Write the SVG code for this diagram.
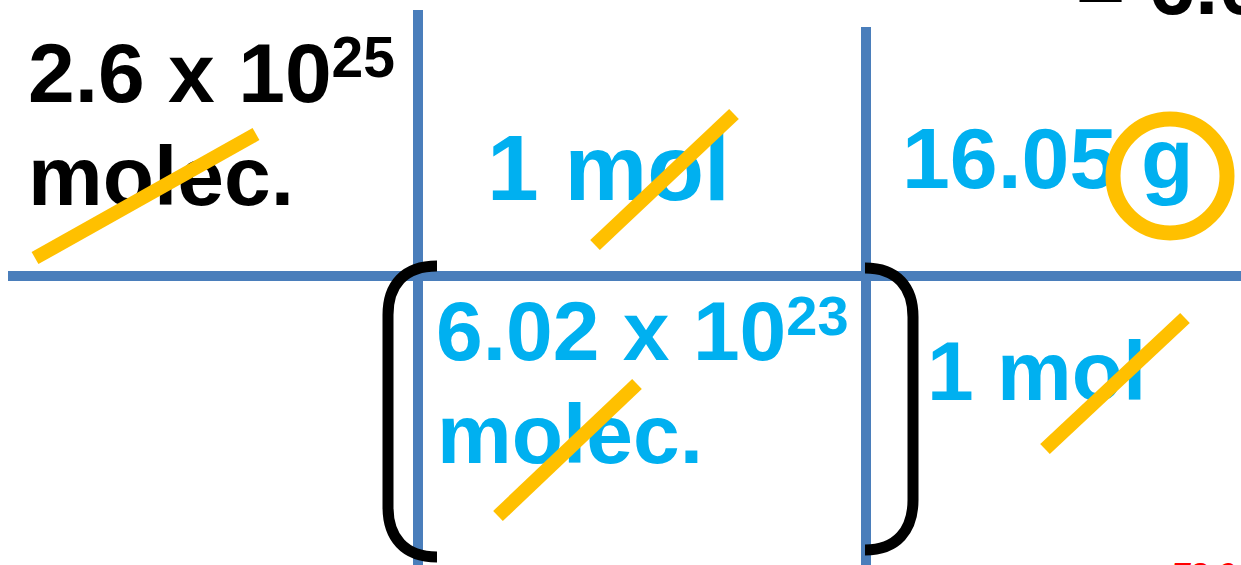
<svg xmlns="http://www.w3.org/2000/svg" width="1241" height="565" viewBox="0 0 1241 565">
<style>
.t{font-family:"Liberation Sans",Arial,sans-serif;font-weight:bold}
.blk{fill:#000}
.cy{fill:#00B0F0}
.grid{stroke:#4A7EBB;stroke-width:10;fill:none}
.strike{stroke:#FFC000;stroke-width:14;fill:none}
.br{stroke:#000;stroke-width:11;fill:none;stroke-linecap:butt}
</style>
<rect width="1241" height="565" fill="#fff"/>
<g id="connectors">
<line class="grid" x1="8" y1="276" x2="1241" y2="276"/>
<line class="grid" x1="418" y1="10" x2="418" y2="565"/>
<line class="grid" x1="866" y1="27" x2="866" y2="565"/>
<path class="br" d="M437,266 C404,266 388,285 388,315 L388,507 C388,537 404,557 437,557"/>
<path class="br" d="M865,268 C897,268 913,287 913,317 L913,500 C913,530 897,550 865,550"/>
</g>
<g id="top-right">
<text class="t blk" x="1076" y="14" font-size="84">= 6.02</text>
</g>
<g id="start">
<text class="t blk" x="28" y="102" font-size="84">2.6 x 10<tspan font-size="57" dy="-25">25</tspan></text>
<text class="t blk" x="28" y="205" font-size="84">molec.</text>
<line class="strike" x1="35" y1="258" x2="256" y2="134"/>
</g>
<g id="mol-top">
<text class="t cy" x="487" y="200" font-size="93">1 mol</text>
<line class="strike" x1="595" y1="245" x2="734" y2="114"/>
</g>
<g id="grams">
<text class="t cy" x="902" y="188" font-size="86">16.05 g</text>
<circle cx="1170" cy="176" r="57" fill="none" stroke="#FFC000" stroke-width="15"/>
</g>
<g id="avogadro">
<text class="t cy" x="436" y="360" font-size="84">6.02 x 10<tspan font-size="56" dy="-25">23</tspan></text>
<text class="t cy" x="437" y="463" font-size="84">molec.</text>
<line class="strike" x1="498" y1="516" x2="637" y2="384"/>
</g>
<g id="mol-bottom">
<text class="t cy" x="927" y="400" font-size="84">1 mol</text>
<line class="strike" x1="1045" y1="449" x2="1185" y2="318"/>
</g>
<g id="red-note">
<text x="1172" y="585" font-family="Liberation Sans,Arial,sans-serif" font-weight="bold" font-style="italic" font-size="32" fill="#FF0000">72.6</text>
</g>
</svg>
